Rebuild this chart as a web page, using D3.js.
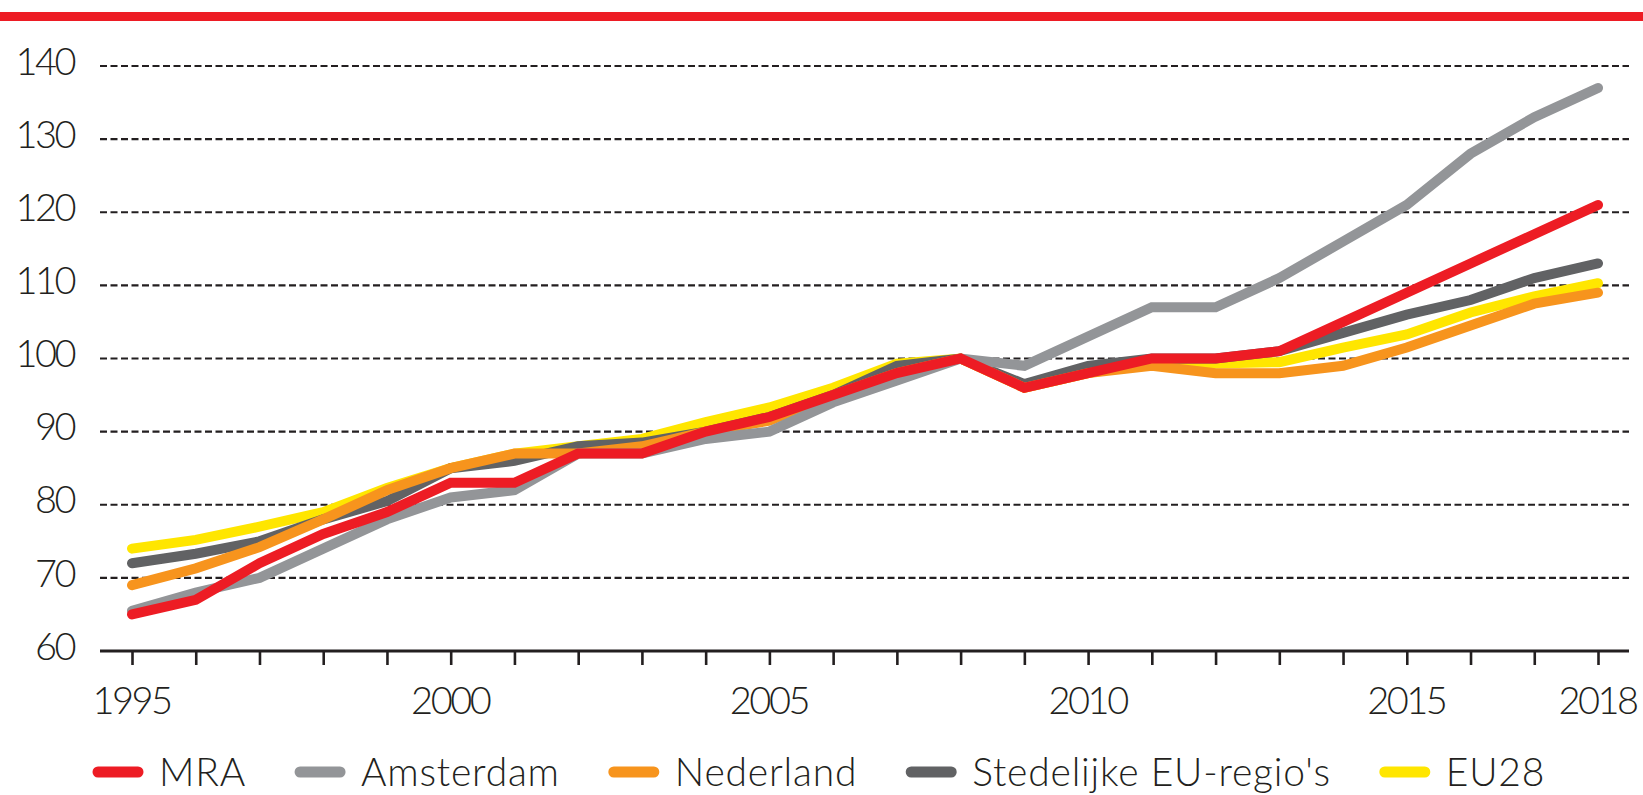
<!DOCTYPE html>
<html>
<head>
<meta charset="utf-8">
<script src="https://cdn.jsdelivr.net/npm/d3@7/dist/d3.min.js"></script>
<style>
body { margin: 0; background: #fff; }
svg text { font-family: Lato, "Open Sans", sans-serif; font-weight: 300; fill: #231F20; }
</style>
</head>
<body>
<svg id="chart" width="1643" height="795"></svg>
<script>
// index, 2008 = 100
var years = [1995, 1996, 1997, 1998, 1999, 2000, 2001, 2002, 2003, 2004, 2005, 2006,
             2007, 2008, 2009, 2010, 2011, 2012, 2013, 2014, 2015, 2016, 2017, 2018];
var yearLabels = [1995, 2000, 2005, 2010, 2015, 2018];
var yTicks = [60, 70, 80, 90, 100, 110, 120, 130, 140];

var mra        = [65, 67, 72, 76, 79, 83, 83, 87, 87, 90, 92, 95, 98, 100, 96, 98, 100, 100, 101, 105, 109, 113, 117, 121];
var amsterdam  = [65.5, 68, 70, 74, 78, 81, 82, 87, 87, 89, 90, 94, 97, 100, 99, 103, 107, 107, 111, 116, 121, 128, 133, 137];
var nederland  = [69, 71.3, 74.2, 78, 82, 85, 87, 87, 88, 90, 91.5, 95, 98, 100, 96, 98, 99, 98, 98, 99, 101.5, 104.5, 107.5, 109];
var stedelijk  = [72, 73.3, 75, 78, 80.5, 85, 86, 88, 88.5, 90, 92, 95, 99, 100, 96.5, 99, 100, 100, 101, 103.5, 106, 108, 111, 113];
var eu28       = [74, 75.2, 77, 79, 82.3, 85, 87, 88, 89, 91.3, 93.3, 96, 99.3, 100, 96, 98, 99.5, 99.3, 99.5, 101.5, 103.3, 106.3, 108.5, 110.3];

var seriesNames = ['MRA', 'Amsterdam', 'Nederland', "Stedelijke EU-regio's", 'EU28'];
var seriesValues = [mra, amsterdam, nederland, stedelijk, eu28];
var seriesColors = ['#ED1C24', '#939598', '#F7941D', '#616264', '#FFE600'];

var Chart = {
    svg: null,
    x: null,
    y: null,
    left: 100,
    right: 1629,
    init: function () {
        this.svg = d3.select('#chart');
        this.x = d3.scaleLinear().domain([1995, 2018]).range([132, 1598]);
        this.y = d3.scaleLinear().domain([60, 140]).range([651, 66]);
        // red band on top
        this.svg.append('rect').attr('x', 0).attr('y', 12)
            .attr('width', 1643).attr('height', 9).attr('fill', '#ED1C24');
    },
    drawGrid: function () {
        var y = this.y;
        this.svg.append('g').selectAll('line')
            .data(yTicks.filter(function (d) { return d > 60; }))
            .enter().append('line')
            .attr('x1', this.left).attr('x2', this.right)
            .attr('y1', function (d) { return y(d); })
            .attr('y2', function (d) { return y(d); })
            .attr('stroke', '#231F20').attr('stroke-width', 2.2)
            .attr('stroke-dasharray', '7,3.5');
        this.svg.append('g').selectAll('text')
            .data(yTicks).enter().append('text')
            .attr('x', 74)
            .attr('y', function (d) { return y(d) - 5; })
            .attr('dy', '0.36em')
            .attr('text-anchor', 'end')
            .style('font-size', '38px')
            .style('letter-spacing', '-2.5px')
            .text(function (d) { return d; });
    },
    drawAxis: function () {
        var ax = d3.axisBottom(this.x)
            .tickValues(years)
            .tickSize(14)
            .tickPadding(22)
            .tickFormat(function (d) { return yearLabels.indexOf(d) >= 0 ? d : ''; });
        var g = this.svg.append('g').attr('transform', 'translate(0,' + this.y(60) + ')').call(ax);
        g.select('.domain').remove();
        g.selectAll('.tick line').attr('stroke', '#231F20').attr('stroke-width', 2.6);
        g.selectAll('.tick text')
            .attr('fill', '#231F20')
            .attr('dx', '-1px')
            .style('font-size', '38px')
            .style('letter-spacing', '-2.5px');
        g.append('line').attr('x1', this.left).attr('x2', this.right)
            .attr('y1', 0).attr('y2', 0)
            .attr('stroke', '#231F20').attr('stroke-width', 3);
    },
    drawLines: function () {
        var x = this.x, y = this.y;
        var line = d3.line()
            .x(function (d, i) { return x(years[i]); })
            .y(function (d) { return y(d); });
        // last legend entry lies at the bottom, MRA on top
        for (var i = seriesValues.length - 1; i >= 0; i--) {
            this.svg.append('path')
                .datum(seriesValues[i])
                .attr('d', line)
                .attr('fill', 'none')
                .attr('stroke', seriesColors[i])
                .attr('stroke-width', 10)
                .attr('stroke-linecap', 'round')
                .attr('stroke-linejoin', 'miter');
        }
    },
    drawLegend: function () {
        var lx = 98, ly = 772;
        var lg = this.svg.append('g');
        for (var i = 0; i < seriesNames.length; i++) {
            lg.append('line')
                .attr('x1', lx).attr('x2', lx + 40)
                .attr('y1', ly).attr('y2', ly)
                .attr('stroke', seriesColors[i])
                .attr('stroke-width', 11)
                .attr('stroke-linecap', 'round');
            var t = lg.append('text')
                .attr('x', lx + 61).attr('y', ly)
                .attr('dy', '0.36em')
                .style('font-size', '39px')
                .style('letter-spacing', '0.8px')
                .text(seriesNames[i]);
            lx = lx + 61 + t.node().getComputedTextLength() + 54;
        }
    }
};

Chart.init();
Chart.drawGrid();
Chart.drawAxis();
Chart.drawLines();
Chart.drawLegend();
</script>
</body>
</html>
